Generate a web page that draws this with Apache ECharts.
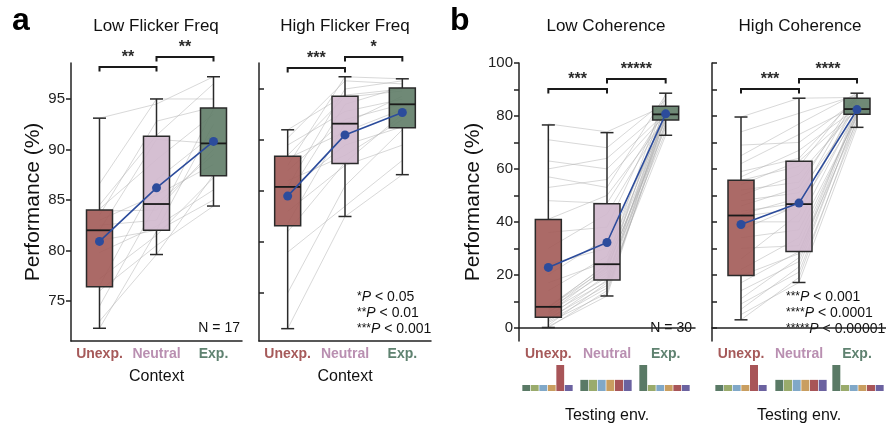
<!DOCTYPE html>
<html><head><meta charset="utf-8">
<script src="https://cdn.jsdelivr.net/npm/echarts@6/dist/echarts.min.js"></script>
<style>html,body{margin:0;padding:0;background:#fff}#c{width:886px;height:426px}</style>
</head><body><div id="c"></div>
<script>
const FONT = "'Liberation Sans', Arial, sans-serif";
const categories = ['Unexp.', 'Neutral', 'Exp.'];
const boxColors = ['#a25a57', '#d0b8cd', '#5f7c67'];
const labelColors = ['#a65a5a', '#b98fb1', '#5f8270'];
const envNames = ['e1', 'e2', 'e3', 'e4', 'e5', 'e6'];
const envColors = ['#5a7a66', '#9aab6c', '#80a8c8', '#c99e60', '#a85558', '#6b62a0'];
const envShareUnexp = [0.09, 0.09, 0.09, 0.09, 0.39, 0.09];
const envShareNeutral = [0.167, 0.167, 0.167, 0.167, 0.167, 0.167];
const envShareExp = [0.39, 0.09, 0.09, 0.09, 0.09, 0.09];

// Panel a1: Low Flicker Freq (N = 17)
const lowFlickerUnexp = [72.3, 73.0, 74.5, 76.0, 76.5, 77.2, 79.8, 81.0, 82.0, 82.5, 83.0, 83.5, 83.9, 84.1, 84.5, 86.6, 93.1];
const lowFlickerNeutral = [81.9, 79.6, 84.6, 80.5, 87.0, 81.5, 82.4, 82.0, 91.0, 83.0, 85.5, 92.8, 84.0, 89.0, 91.4, 95.0, 94.5];
const lowFlickerExp = [85.0, 87.5, 89.5, 84.4, 91.5, 87.2, 86.0, 92.5, 90.6, 94.0, 88.5, 94.2, 90.0, 93.5, 96.5, 95.0, 97.2];
const lowFlickerBox = [[72.3, 76.4, 82.0, 84.0, 93.1], [79.6, 82.0, 84.6, 91.3, 95.0], [84.4, 87.4, 90.6, 94.1, 97.2]];
const lowFlickerMean = [80.9, 86.2, 90.8];
const lowFlickerBrackets = [[0, 1, 98.17, '**'], [1, 2, 99.16, '**']];

// Panel a2: High Flicker Freq (N = 17)
const highFlickerUnexp = [71.5, 75.0, 79.0, 81.0, 81.8, 83.0, 84.5, 85.0, 85.4, 86.0, 87.0, 87.5, 88.2, 88.5, 89.5, 90.2, 91.0];
const highFlickerNeutral = [82.5, 85.5, 83.5, 87.8, 91.6, 87.5, 93.5, 89.5, 95.0, 88.5, 92.0, 96.2, 90.8, 94.2, 92.8, 95.8, 94.4];
const highFlickerExp = [86.6, 91.0, 88.0, 92.5, 94.3, 89.5, 95.2, 91.3, 95.8, 92.0, 93.5, 96.0, 93.0, 94.8, 94.0, 95.5, 95.0];
const highFlickerBox = [[71.5, 81.6, 85.4, 88.4, 91.0], [82.5, 87.7, 91.6, 94.3, 96.2], [86.6, 91.2, 93.5, 95.1, 96.0]];
const highFlickerMean = [84.5, 90.5, 92.7];
const highFlickerBrackets = [[0, 1, 97.06, '***'], [1, 2, 98.14, '*']];

// Panel b1: Low Coherence (N = 30)
const lowCohUnexp = [0, 0.5, 1, 2, 2.5, 3, 3.5, 4, 5, 5.5, 6, 6.5, 7, 7.5, 7.8, 8.0, 14, 17, 20, 24, 30, 36, 41, 48, 53, 57, 60, 63, 71, 77];
const lowCohNeutral = [14, 12, 17, 13, 15, 18, 16, 20, 17.5, 22, 19, 23, 21, 24.2, 22.5, 23.8, 27, 25, 34, 30, 43, 38, 50, 47, 56, 53, 64, 60, 68, 74];
const lowCohExp = [77.5, 80.2, 72.7, 82.5, 76.5, 79.3, 80.7, 74, 84.5, 78.5, 81.6, 75.5, 87, 79.6, 77, 83.7, 80.4, 88.6, 78, 81, 80, 85, 79, 82, 80.5, 88, 83, 81.3, 86, 84];
const lowCohBox = [[0.1, 4.0, 7.9, 40.9, 76.6], [12.0, 18.0, 24.0, 46.8, 73.7], [72.7, 78.5, 80.6, 83.7, 88.6]];
const lowCohMean = [22.8, 32.2, 80.8];
const lowCohBrackets = [[0, 1, 90.2, '***'], [1, 2, 94.0, '*****']];

// Panel b2: High Coherence (N = 30)
const highCohUnexp = [3, 5, 7, 9, 11, 14, 17, 19.7, 22, 26, 30, 34, 37, 40, 42, 42.8, 44, 46, 48, 50, 52, 54, 55.7, 57, 59, 62, 65, 69, 74, 79.6];
const highCohNeutral = [19, 17.1, 23, 21, 26.5, 25, 28.8, 28, 34, 43, 31, 37, 46.3, 40, 45, 49, 47.1, 53, 51, 58, 55, 62.9, 61, 67, 64, 73, 77, 70, 81, 86.7];
const highCohExp = [78.8, 75.7, 81, 77, 82.1, 80, 78, 83.5, 80.3, 86.7, 81.6, 79.5, 84.6, 82.5, 80.6, 87.6, 81.9, 88.1, 81.3, 82.7, 85.3, 82.3, 88.4, 83, 87.3, 84, 88.6, 86, 87.9, 87];
const highCohBox = [[3.0, 19.7, 42.4, 55.7, 79.6], [17.1, 28.8, 46.7, 62.9, 86.7], [75.7, 80.6, 82.6, 86.7, 88.6]];
const highCohMean = [39.0, 47.1, 82.4];
const highCohBrackets = [[0, 1, 90.2, '***'], [1, 2, 94.0, '****']];

const aTicks = [75, 80, 85, 90, 95];
const bTicks = [0, 10, 20, 30, 40, 50, 60, 70, 80, 90, 100];
const bLabels = [0, 20, 40, 60, 80, 100];

const panels = [
  {u: lowFlickerUnexp, n: lowFlickerNeutral, e: lowFlickerExp, box: lowFlickerBox, mean: lowFlickerMean, br: lowFlickerBrackets},
  {u: highFlickerUnexp, n: highFlickerNeutral, e: highFlickerExp, box: highFlickerBox, mean: highFlickerMean, br: highFlickerBrackets},
  {u: lowCohUnexp, n: lowCohNeutral, e: lowCohExp, box: lowCohBox, mean: lowCohMean, br: lowCohBrackets},
  {u: highCohUnexp, n: highCohNeutral, e: highCohExp, box: highCohBox, mean: highCohMean, br: highCohBrackets}
];

const grids = [
  {left: 71, top: 63, width: 171, height: 278},
  {left: 259, top: 63, width: 172, height: 278},
  {left: 519, top: 63, width: 176, height: 278},
  {left: 712, top: 63, width: 174, height: 278},
  {left: 522, top: 365, width: 51, height: 26},
  {left: 580, top: 365, width: 52, height: 26},
  {left: 639, top: 365, width: 51, height: 26},
  {left: 715, top: 365, width: 52, height: 26},
  {left: 775, top: 365, width: 52, height: 26},
  {left: 832, top: 365, width: 52, height: 26}
].map(g => Object.assign({outerBoundsMode: 'none', containLabel: false}, g));

const axisCol = '#222';
const rich = {};
labelColors.forEach((c, i) => { rich['c' + i] = {color: c, fontWeight: 'bold', fontSize: 14, fontFamily: FONT}; });

function xAxisMain(gi, name, gap) {
  return {
    type: 'category', gridIndex: gi, data: categories, boundaryGap: true,
    axisLine: {lineStyle: {color: axisCol, width: 1.5}},
    axisTick: {inside: true, alignWithLabel: true, length: 5, lineStyle: {color: axisCol, width: 1.5}},
    axisLabel: {margin: 6, interval: 0, hideOverlap: false, formatter: (v, i) => '{c' + i + '|' + v + '}', rich: rich},
    name: name, nameLocation: 'middle', nameGap: gap,
    nameTextStyle: {color: '#111', fontSize: 16, fontFamily: FONT}
  };
}
function yAxisMain(gi, min, max, ticks, labels, inside, name) {
  return {
    type: 'value', gridIndex: gi, min: min, max: max,
    splitLine: {show: false},
    axisLine: {show: true, lineStyle: {color: axisCol, width: 1.5}},
    axisTick: {show: true, inside: inside, length: 5, customValues: ticks, lineStyle: {color: axisCol, width: 1.5}},
    axisLabel: {show: !!labels, customValues: labels || ticks, margin: 6, fontSize: 15, color: '#222', fontFamily: FONT},
    name: name || '', nameLocation: 'middle', nameGap: 27, nameRotate: 90,
    nameTextStyle: {color: '#111', fontSize: 21, fontFamily: FONT}
  };
}

const xAxes = [
  xAxisMain(0, 'Context', 28), xAxisMain(1, 'Context', 28),
  xAxisMain(2, 'Testing env.', 67), xAxisMain(3, 'Testing env.', 67)
];
const yAxes = [
  yAxisMain(0, 71.04, 98.56, aTicks, aTicks, false, 'Performance (%)'),
  yAxisMain(1, 70.29, 97.55, aTicks, null, true),
  yAxisMain(2, -5, 100, bTicks, bLabels, false, 'Performance (%)'),
  yAxisMain(3, -5, 100, bTicks, null, true)
];
for (let g = 4; g < 10; g++) {
  xAxes.push({type: 'category', gridIndex: g, data: envNames, show: false});
  yAxes.push({type: 'value', gridIndex: g, min: 0, max: 0.39, show: false});
}

const series = [];
panels.forEach((p, gi) => {
  // subject lines (under the boxes)
  series.push({
    type: 'custom', xAxisIndex: gi, yAxisIndex: gi, z: 1, clip: false,
    encode: {x: 0, y: 1},
    data: p.u.map((u, k) => [0, u, p.n[k], p.e[k]]),
    renderItem: (params, api) => {
      const pts = [api.coord([0, api.value(1)]), api.coord([1, api.value(2)]), api.coord([2, api.value(3)])];
      return {type: 'polyline', shape: {points: pts}, style: {fill: null, stroke: 'rgba(175,175,175,0.62)', lineWidth: 0.8}};
    }
  });
  // boxes
  series.push({
    type: 'custom', xAxisIndex: gi, yAxisIndex: gi, z: 2, clip: false,
    encode: {x: 0, y: 1},
    data: p.box.map((b, i) => [i].concat(b)),
    renderItem: (params, api) => {
      const c = api.value(0);
      const pMin = api.coord([c, api.value(1)]);
      const y1 = api.coord([c, api.value(2)])[1];
      const ym = api.coord([c, api.value(3)])[1];
      const y3 = api.coord([c, api.value(4)])[1];
      const yMax = api.coord([c, api.value(5)])[1];
      const x = pMin[0], yMin = pMin[1];
      const hw = 13, cw = 6.5;
      const ls = {stroke: '#2a2a2a', lineWidth: 1.5};
      return {type: 'group', children: [
        {type: 'line', shape: {x1: x, y1: yMin, x2: x, y2: y1}, style: ls},
        {type: 'line', shape: {x1: x, y1: y3, x2: x, y2: yMax}, style: ls},
        {type: 'line', shape: {x1: x - cw, y1: yMin, x2: x + cw, y2: yMin}, style: ls},
        {type: 'line', shape: {x1: x - cw, y1: yMax, x2: x + cw, y2: yMax}, style: ls},
        {type: 'rect', shape: {x: x - hw, y: y3, width: 2 * hw, height: y1 - y3}, style: {fill: boxColors[c], opacity: 0.9}},
        {type: 'rect', shape: {x: x - hw, y: y3, width: 2 * hw, height: y1 - y3}, style: {fill: null, stroke: '#2a2a2a', lineWidth: 1.5}},
        {type: 'line', shape: {x1: x - hw, y1: ym, x2: x + hw, y2: ym}, style: {stroke: '#1a1a1a', lineWidth: 1.8}}
      ]};
    }
  });
  // mean line
  series.push({
    type: 'line', xAxisIndex: gi, yAxisIndex: gi, z: 5, data: p.mean,
    symbol: 'circle', symbolSize: 9,
    lineStyle: {color: '#2c4c9c', width: 1.6},
    itemStyle: {color: '#2c4c9c'}
  });
  // significance brackets
  series.push({
    type: 'custom', xAxisIndex: gi, yAxisIndex: gi, z: 6, clip: false,
    encode: {x: 0, y: 2},
    data: p.br.map(b => [b[0], b[1], b[2]]),
    renderItem: (params, api) => {
      const a = api.coord([api.value(0), api.value(2)]);
      const b = api.coord([api.value(1), api.value(2)]);
      const lab = p.br[params.dataIndex][3];
      return {type: 'group', children: [
        {type: 'polyline', shape: {points: [[a[0], a[1] + 4.5], [a[0], a[1]], [b[0], b[1]], [b[0], b[1] + 4.5]]}, style: {fill: null, stroke: '#1a1a1a', lineWidth: 2}},
        {type: 'text', x: (a[0] + b[0]) / 2, y: a[1] - 1, style: {text: lab, fill: '#2a2a2a', font: 'bold 16px ' + FONT, textAlign: 'center', textVerticalAlign: 'bottom'}}
      ]};
    }
  });
});

const envSets = [envShareUnexp, envShareNeutral, envShareExp, envShareUnexp, envShareNeutral, envShareExp];
envSets.forEach((s, k) => {
  series.push({
    type: 'bar', xAxisIndex: 4 + k, yAxisIndex: 4 + k, barCategoryGap: '8%', silent: true,
    data: s.map((v, i) => ({value: v, itemStyle: {color: envColors[i]}}))
  });
});

function txt(x, y, text, size) {
  return {type: 'text', x: x, y: y, style: {text: text, fill: '#111', font: size + 'px ' + FONT, textAlign: 'center', textVerticalAlign: 'middle'}};
}
const pRich = {s: {fontSize: 12, fontFamily: FONT, color: '#111'}, t: {fontSize: 14, fontFamily: FONT, color: '#111'}, p: {fontSize: 14, fontFamily: FONT, fontStyle: 'italic', color: '#111'}};
function pText(x, y, stars, rest) {
  return {type: 'text', x: x, y: y, style: {text: '{s|' + stars + '}{p|P}{t|' + rest + '}', rich: pRich, font: '14px ' + FONT, fill: '#111', textAlign: 'left', textVerticalAlign: 'middle'}};
}

const graphics = [
  {type: 'text', x: 12, y: 21, style: {text: 'a', font: 'bold 32px ' + FONT, fill: '#000', textAlign: 'left', textVerticalAlign: 'middle'}},
  {type: 'text', x: 450, y: 21, style: {text: 'b', font: 'bold 32px ' + FONT, fill: '#000', textAlign: 'left', textVerticalAlign: 'middle'}},
  txt(156, 26.5, 'Low Flicker Freq', 17),
  txt(345, 26.5, 'High Flicker Freq', 17),
  txt(606, 26.5, 'Low Coherence', 17),
  txt(800, 26.5, 'High Coherence', 17),
  {type: 'text', x: 240, y: 328, style: {text: 'N = 17', font: '14px ' + FONT, fill: '#111', textAlign: 'right', textVerticalAlign: 'middle'}},
  {type: 'text', x: 692, y: 328, style: {text: 'N = 30', font: '14px ' + FONT, fill: '#111', textAlign: 'right', textVerticalAlign: 'middle'}},
  pText(357, 297, '*', ' < 0.05'),
  pText(357, 313, '**', ' < 0.01'),
  pText(357, 329, '***', ' < 0.001'),
  pText(786, 297, '***', ' < 0.001'),
  pText(786, 313, '****', ' < 0.0001'),
  pText(786, 329, '*****', ' < 0.00001')
];

const chart = echarts.init(document.getElementById('c'), null, {renderer: 'canvas'});
chart.setOption({
  animation: false,
  backgroundColor: '#fff',
  textStyle: {fontFamily: FONT},
  grid: grids,
  xAxis: xAxes,
  yAxis: yAxes,
  series: series,
  graphic: graphics
});
</script></body></html>
